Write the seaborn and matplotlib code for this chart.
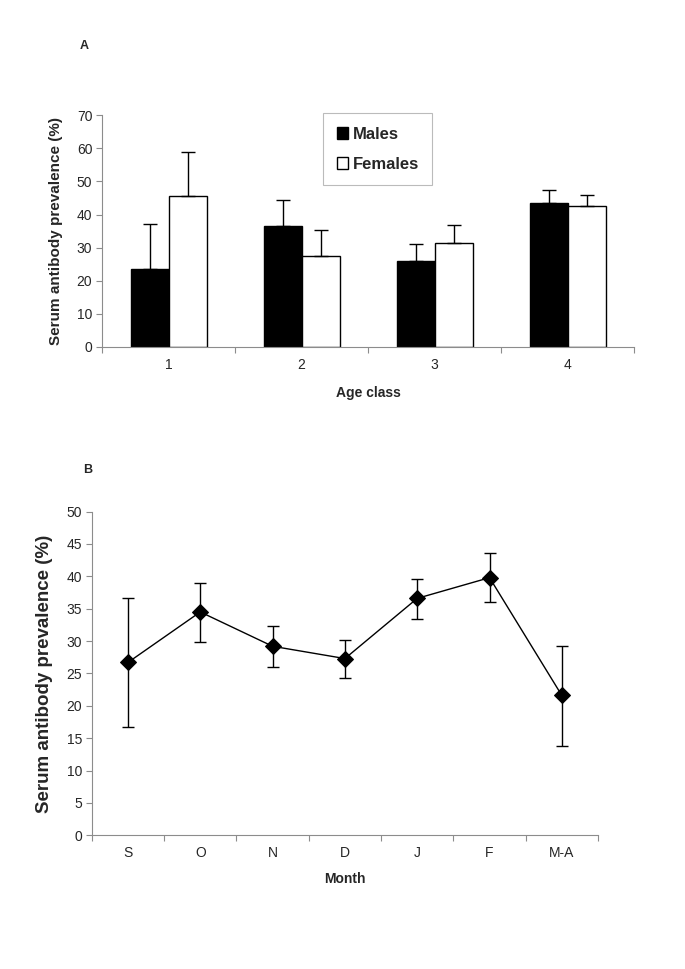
import matplotlib
matplotlib.use("Agg")
import matplotlib.pyplot as plt
import numpy as np
import pandas as pd
import seaborn as sns
from matplotlib.patches import Patch

# Panel A data: prevalence by age class and sex
age_classes = ["1", "2", "3", "4"]
males = [23.5, 36.5, 26.0, 43.5]
males_upper = [37.0, 44.5, 31.0, 47.5]
females = [45.7, 27.5, 31.3, 42.6]
females_upper = [58.8, 35.2, 36.7, 46.0]

# Panel B data: prevalence by month
months = ["S", "O", "N", "D", "J", "F", "M-A"]
month_prev = [26.7, 34.5, 29.2, 27.3, 36.6, 39.8, 21.6]
month_low = [16.8, 29.9, 26.0, 24.3, 33.4, 36.1, 13.8]
month_high = [36.6, 38.9, 32.3, 30.2, 39.6, 43.6, 29.2]

sns.set_style("white")
plt.rcParams["font.family"] = ["Liberation Sans", "DejaVu Sans"]

fig = plt.figure(figsize=(6.85, 9.69), dpi=100)
axis_grey = "#8c8c8c"

# ---------- Panel A ----------
ax1 = fig.add_axes([0.149, 0.642, 0.777, 0.239])
df_a = pd.DataFrame({
    "age": age_classes * 2,
    "sex": ["Males"] * 4 + ["Females"] * 4,
    "prev": males + females,
})
sns.barplot(data=df_a, x="age", y="prev", hue="sex", palette=["black", "white"],
            width=0.57, edgecolor="black", linewidth=1.0, errorbar=None,
            legend=False, ax=ax1)

# upper-only error bars, placed on the bar centres
bars = ax1.patches[:8]
centres = [b.get_x() + b.get_width() / 2 for b in bars]
heights = [b.get_height() for b in bars]
uppers = males_upper + females_upper
ax1.errorbar(centres, heights,
             yerr=[np.zeros(8), np.array(uppers) - np.array(heights)],
             fmt="none", ecolor="black", elinewidth=1.0, capsize=5, capthick=1.0)

ax1.set_xlim(-0.5, 3.5)
ax1.set_ylim(0, 70)
ax1.set_yticks(range(0, 71, 10))
ax1.set_xticks(range(4))
ax1.set_xticks(np.arange(-0.5, 4, 1), minor=True)
ax1.tick_params(axis="x", which="major", bottom=True, length=0, labelsize=10, pad=8)
ax1.tick_params(axis="x", which="minor", bottom=True, length=4, width=0.8,
                color=axis_grey, direction="out")
ax1.tick_params(axis="y", left=True, length=4, width=0.8, color=axis_grey,
                direction="out", labelsize=10, pad=3)
ax1.set_xlabel("Age class", fontsize=10, fontweight="bold", labelpad=10)
ax1.set_ylabel("Serum antibody prevalence (%)", fontsize=11, fontweight="bold", labelpad=10)
for s in ["top", "right"]:
    ax1.spines[s].set_visible(False)
for s in ["left", "bottom"]:
    ax1.spines[s].set_color(axis_grey)
    ax1.spines[s].set_linewidth(0.8)

handles = [Patch(facecolor="black", edgecolor="black"),
           Patch(facecolor="white", edgecolor="black")]
leg = ax1.legend(handles, ["Males", "Females"], loc="upper left",
                 bbox_to_anchor=(0.40, 1.045), frameon=True, fancybox=False,
                 edgecolor="#aaaaaa", handlelength=0.7, handleheight=0.7,
                 handletextpad=0.25, labelspacing=0.9, borderpad=0.8,
                 prop={"size": 12, "weight": "bold"})
leg.get_frame().set_linewidth(0.8)

fig.text(0.117, 0.953, "A", fontsize=9, fontweight="bold", ha="left", va="center")

# ---------- Panel B ----------
ax2 = fig.add_axes([0.134, 0.138, 0.739, 0.334])
df_b = pd.DataFrame({"month": months, "prev": month_prev})
sns.pointplot(data=df_b, x="month", y="prev", color="black", markers="D",
              markersize=8, linewidth=1.0, errorbar=None, ax=ax2)
err_lo = np.array(month_prev) - np.array(month_low)
err_hi = np.array(month_high) - np.array(month_prev)
ax2.errorbar(range(len(months)), month_prev, yerr=[err_lo, err_hi], fmt="none",
             ecolor="black", elinewidth=1.0, capsize=4, capthick=1.0)

ax2.set_xlim(-0.5, 6.5)
ax2.set_ylim(0, 50)
ax2.set_yticks(range(0, 51, 5))
ax2.set_xticks(range(len(months)))
ax2.set_xticks(np.arange(-0.5, 7, 1), minor=True)
ax2.tick_params(axis="x", which="major", bottom=True, length=0, labelsize=10, pad=8)
ax2.tick_params(axis="x", which="minor", bottom=True, length=4, width=0.8,
                color=axis_grey, direction="out")
ax2.tick_params(axis="y", left=True, length=4, width=0.8, color=axis_grey,
                direction="out", labelsize=10, pad=3)
ax2.set_xlabel("Month", fontsize=10, fontweight="bold", labelpad=8)
ax2.set_ylabel("Serum antibody prevalence (%)", fontsize=13.5, fontweight="bold", labelpad=10)
for s in ["top", "right"]:
    ax2.spines[s].set_visible(False)
for s in ["left", "bottom"]:
    ax2.spines[s].set_color(axis_grey)
    ax2.spines[s].set_linewidth(0.8)

fig.text(0.121, 0.515, "B", fontsize=9, fontweight="bold", ha="left", va="center")

fig.savefig("out.png", dpi=100)
